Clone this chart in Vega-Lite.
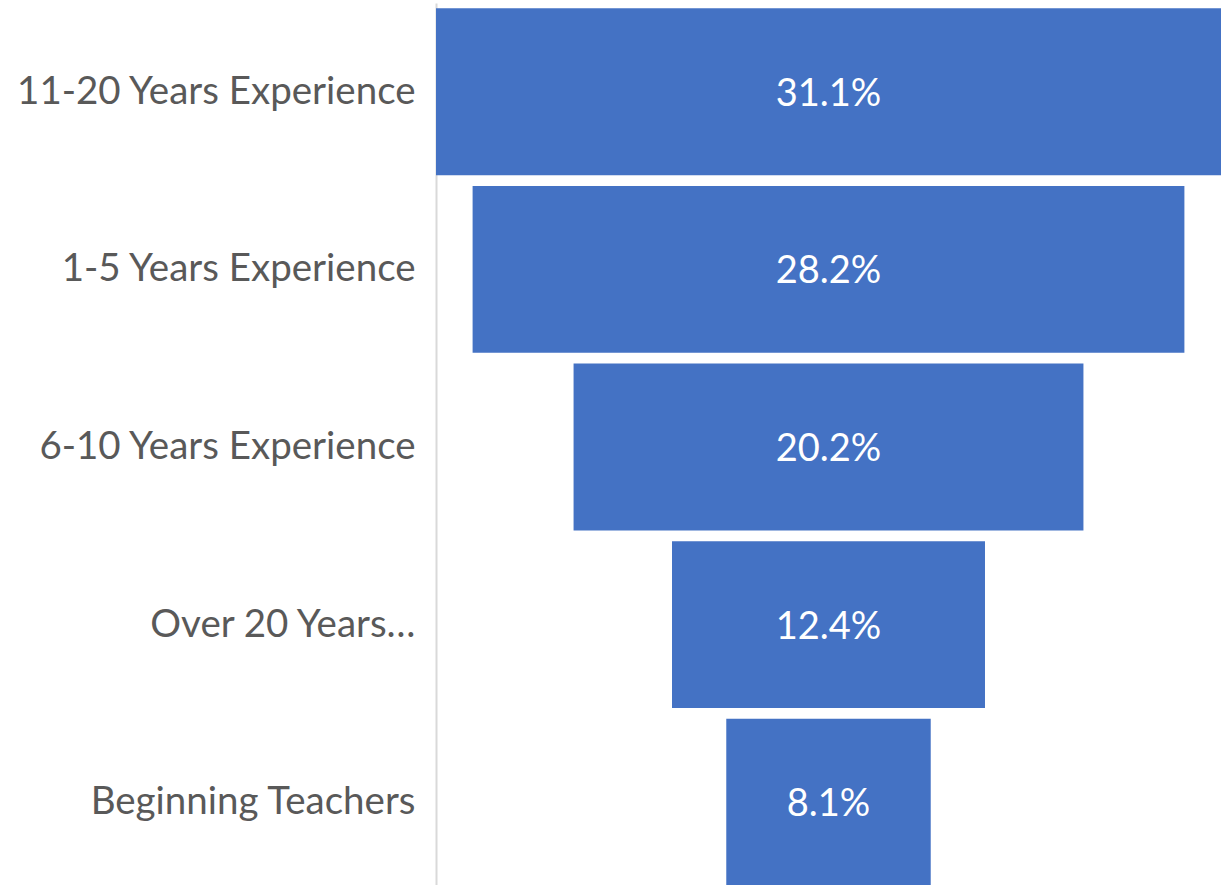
{
  "$schema": "https://vega.github.io/schema/vega-lite/v6.json",
  "autosize": "none",
  "width": 785,
  "height": 888,
  "padding": {"left": 436, "top": 3, "right": 9, "bottom": 0},
  "background": "white",
  "config": {"view": {"stroke": null}, "font": "Lato"},
  "data": {"values": [
    {"category": "11-20 Years Experience", "value": 31.1, "label": "31.1%"},
    {"category": "1-5 Years Experience", "value": 28.2, "label": "28.2%"},
    {"category": "6-10 Years Experience", "value": 20.2, "label": "20.2%"},
    {"category": "Over 20 Years…", "value": 12.4, "label": "12.4%"},
    {"category": "Beginning Teachers", "value": 8.1, "label": "8.1%"}
  ]},
  "encoding": {
    "y": {"field": "category", "type": "nominal", "sort": null,
      "scale": {"paddingInner": 0.06, "paddingOuter": 0.03},
      "axis": {"title": null, "ticks": false, "domainColor": "#d9d9d9", "domainWidth": 2,
        "labelColor": "#595959", "labelFontSize": 38.5, "labelFont": "Lato", "labelPadding": 21,
        "labelLimit": 500, "labelDy": 3,
        "labelExpr": "substring(datum.label, 0, 4) === 'Over' ? datum.label + '\u2003\u2002\u2005' : datum.label"}}
  },
  "layer": [
    {"mark": {"type": "bar", "color": "#4472C4"},
     "encoding": {"x": {"field": "value", "type": "quantitative", "stack": "center",
       "scale": {"domain": [0, 31.1], "nice": false}, "axis": null}}},
    {"mark": {"type": "text", "color": "white", "fontSize": 38, "font": "Lato", "dy": 3},
     "encoding": {"x": {"datum": 15.55, "type": "quantitative"}, "text": {"field": "label"}}}
  ]
}
